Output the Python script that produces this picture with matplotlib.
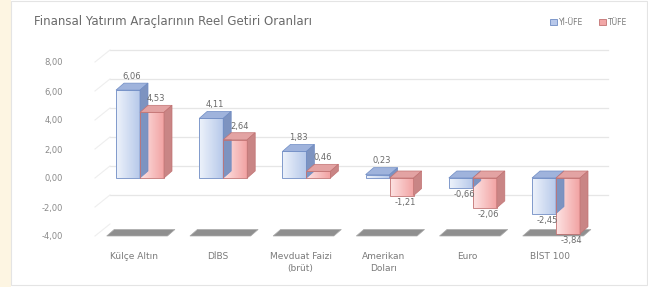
import numpy as np
import matplotlib.pyplot as plt
from matplotlib.patches import Polygon, Rectangle, Patch
from matplotlib.colors import LinearSegmentedColormap

categories = ["Külçe Altın", "DİBS", "Mevduat Faizi\n(brüt)", "Amerikan\nDoları", "Euro", "BİST 100"]
yi_ufe = [6.06, 4.11, 1.83, 0.23, -0.66, -2.45]
tufe = [4.53, 2.64, 0.46, -1.21, -2.06, -3.84]
yticks = [-4, -2, 0, 2, 4, 6, 8]
title = "Finansal Yatırım Araçlarının Reel Getiri Oranları"

W, H = 648, 287
fig = plt.figure(figsize=(W / 100, H / 100), dpi=100)
fig.patch.set_facecolor("white")

# cream strip on the left and the light chart border
fig.patches.append(Rectangle((0, 0), 11 / W, 1, transform=fig.transFigure,
                             facecolor="#fdf5e2", edgecolor="none", zorder=0))
fig.patches.append(Rectangle((11 / W, 2 / H), 1 - 12 / W, 1 - 3 / H, transform=fig.transFigure,
                             facecolor="none", edgecolor="#e4e4e4", lw=0.8, zorder=0))


def px_box(l, t, r, b):
    return [l / W, 1 - b / H, (r - l) / W, (b - t) / H]


ax = fig.add_axes(px_box(70, 40, 630, 245))
zero_px, unit_px = 178, 14.5
cat_px0, cat_step = 140, 83.2
ax.set_autoscale_on(False)
for s in ax.spines.values():
    s.set_visible(False)

ax.set_yticks(yticks)
ax.set_yticklabels(["{:.2f}".format(v).replace(".", ",") for v in yticks],
                   fontsize=6, color="#8a8a8a")
ax.tick_params(axis="y", length=0, pad=5)
ax.set_xticks([i - 0.07 for i in range(len(categories))])
ax.set_xticklabels(categories, fontsize=6.5, color="#7a7a7a", linespacing=1.4)
ax.tick_params(axis="x", length=0, pad=5)

# back wall gridlines + side wall diagonals
back = 0.83
xl_front = (95 - cat_px0) / cat_step
xl_back = (110 - cat_px0) / cat_step
xr = (608 - cat_px0) / cat_step
for v in yticks:
    if v >= -2:
        ax.plot([xl_back, xr], [v + back, v + back], color="#e6e6e6", lw=0.9, zorder=1)
    ax.plot([xl_front, xl_back], [v, v + back], color="#eeeeee", lw=0.8, zorder=1)

# floor slabs
for i in range(len(categories)):
    slab = Polygon([(i - 0.40, -4.0), (i + 0.33, -4.0), (i + 0.42, -3.55), (i - 0.31, -3.55)],
                   closed=True, facecolor="#8f8f8f", edgecolor="#aaaaaa", lw=0.5, zorder=2)
    ax.add_patch(slab)

bw = 24 / cat_step
dx = 8 / cat_step
dy = 7 / unit_px

styles = [
    (yi_ufe, -bw, ("#eef3fb", "#b7c9ea"), "#6f8cc4", "#9fb3dc", "#7d93c0"),
    (tufe, 0.0, ("#fde3e3", "#f2a3a3"), "#c27373", "#e3a3a3", "#c98585"),
]
grad = np.linspace(0, 1, 64).reshape(1, -1)

for i in range(len(categories)):
    for vals, off, front, edge, top, side in styles:
        v = vals[i]
        lo, hi = min(0, v), max(0, v)
        x0 = i + off
        x1 = x0 + bw
        bars = ax.bar(x0, hi - lo, width=bw, bottom=lo, align="edge",
                      facecolor=front[1], edgecolor=edge, lw=0.6, zorder=3)
        cmap = LinearSegmentedColormap.from_list("f", list(front))
        im = ax.imshow(grad, cmap=cmap, extent=(x0, x1, lo, hi), aspect="auto",
                       interpolation="bicubic", zorder=3.1)
        im.set_clip_path(bars[0])
        bars[0].set_facecolor("none")
        bars[0].set_zorder(3.2)
        ax.add_patch(Polygon([(x0, hi), (x1, hi), (x1 + dx, hi + dy), (x0 + dx, hi + dy)],
                             closed=True, facecolor=top, edgecolor=edge, lw=0.5, zorder=3.2))
        ax.add_patch(Polygon([(x1, lo), (x1 + dx, lo + dy), (x1 + dx, hi + dy), (x1, hi)],
                             closed=True, facecolor=side, edgecolor=edge, lw=0.5, zorder=3.2))
        lab = "{:.2f}".format(v).replace(".", ",")
        if v >= 0:
            ax.text(x0 + bw / 2 + dx / 2, hi + dy + 0.15, lab, ha="center", va="bottom",
                    fontsize=6, color="#6a6a6a", zorder=5)
        else:
            ax.text(x1 + dx * 0.3, lo - 0.15, lab, ha="right", va="top",
                    fontsize=6, color="#6a6a6a", zorder=5)

ax.set_xlim((70 - cat_px0) / cat_step, (630 - cat_px0) / cat_step)
ax.set_ylim(-(245 - zero_px) / unit_px, (zero_px - 40) / unit_px)

ax.legend(handles=[Patch(facecolor="#b8c8ea", edgecolor="#6f8cc4", lw=0.6, label="Yİ-ÜFE"),
                   Patch(facecolor="#f2a7a7", edgecolor="#c27373", lw=0.6, label="TÜFE")],
          loc="upper right", bbox_to_anchor=(634 / W, 1 - 11 / H), bbox_transform=fig.transFigure,
          ncol=2, frameon=False, fontsize=5.5, labelcolor="#7a7a7a",
          handlelength=0.9, handleheight=0.9, handletextpad=0.3, columnspacing=2.0)

fig.text(34 / W, 1 - 21 / H, title, fontsize=8.5, color="#6a6a6a", ha="left", va="center")

fig.savefig("out.png", dpi=100)
